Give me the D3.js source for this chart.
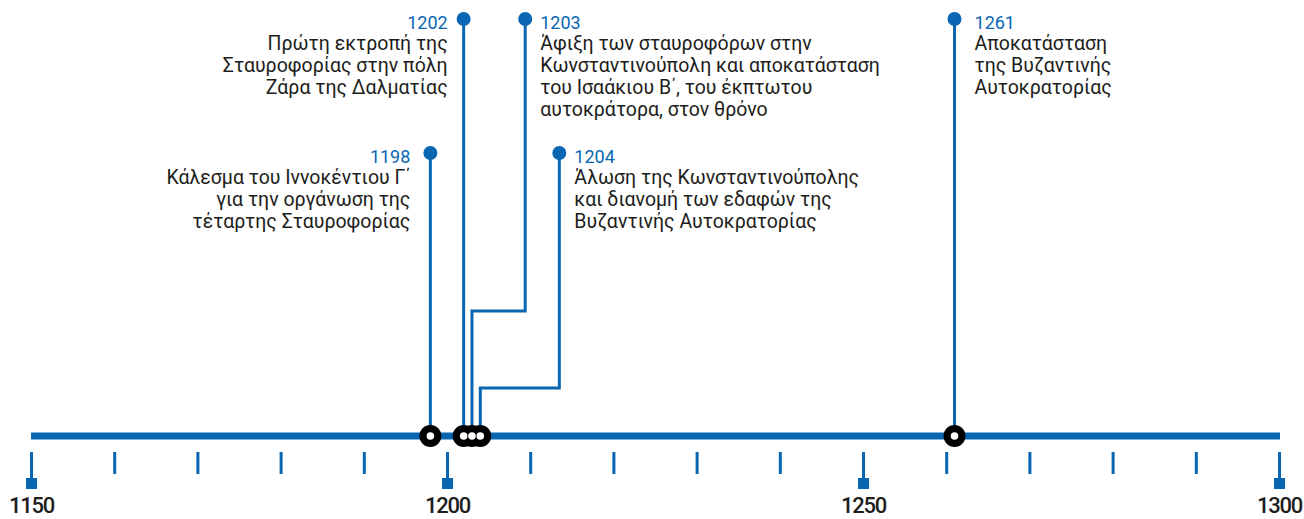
<!DOCTYPE html>
<html>
<head>
<meta charset="utf-8">
<script src="https://cdn.jsdelivr.net/npm/d3@7"></script>
<style>
  body { margin: 0; background: #fff; }
  svg text { font-family: Roboto, "Noto Sans", sans-serif; }
</style>
</head>
<body>
<div id="timeline"></div>
<script>
// data
var eventYears = [1198, 1202, 1203, 1204, 1261];
var eventLabels = ["1198", "1202", "1203", "1204", "1261"];
var eventTexts = [
  ["Κάλεσμα του Ιννοκέντιου Γ΄", "για την οργάνωση της", "τέταρτης Σταυροφορίας"],
  ["Πρώτη εκτροπή της", "Σταυροφορίας στην πόλη", "Ζάρα της Δαλματίας"],
  ["Άφιξη των σταυροφόρων στην", "Κωνσταντινούπολη και αποκατάσταση", "του Ισαάκιου Β΄, του έκπτωτου", "αυτοκράτορα, στον θρόνο"],
  ["Άλωση της Κωνσταντινούπολης", "και διανομή των εδαφών της", "Βυζαντινής Αυτοκρατορίας"],
  ["Αποκατάσταση", "της Βυζαντινής", "Αυτοκρατορίας"]
];
var majorTicks = [1150, 1200, 1250, 1300];
var minorTicks = [1160, 1170, 1180, 1190, 1210, 1220, 1230, 1240, 1260, 1270, 1280, 1290];

// layout of the callouts (which row, which side, where the stem bends)
var labelRow = [1, 0, 0, 1, 0];
var labelSide = ["left", "left", "right", "right", "right"];
var bendYear = [null, null, 1209.4, 1213.5, null];
var bendY = [null, null, 311, 388, null];
var labelGap = [20, 16, 15, 15, 20];

var width = 1304, height = 519;
var blue = "#0866b2", ink = "#1d1d1b";
var lineY = 436;
var rowY = [19, 153];

var svg = d3.select("#timeline")
  .append("svg")
  .attr("width", width)
  .attr("height", height);

var x = d3.scaleLinear()
  .domain([1150, 1300])
  .range([31, 1279]);

// main bar
svg.append("line")
  .attr("x1", x(1150))
  .attr("x2", x(1300) + 1)
  .attr("y1", lineY)
  .attr("y2", lineY)
  .attr("stroke", blue)
  .attr("stroke-width", 7);

// minor ticks
var minorAxis = d3.axisBottom(x)
  .tickValues(minorTicks)
  .tickSize(22)
  .tickSizeOuter(0)
  .tickFormat("");

var gMinor = svg.append("g")
  .attr("transform", `translate(0, 452)`)
  .call(minorAxis);
gMinor.select(".domain").remove();
gMinor.selectAll("line").attr("stroke", blue).attr("stroke-width", 3);

// major ticks with squares and labels
var majorAxis = d3.axisBottom(x)
  .tickValues(majorTicks)
  .tickSize(28)
  .tickSizeOuter(0)
  .tickFormat(d3.format("d"));

var gMajor = svg.append("g")
  .attr("transform", `translate(0, 452)`)
  .call(majorAxis);
gMajor.select(".domain").remove();
gMajor.selectAll("line").attr("stroke", blue).attr("stroke-width", 3);
gMajor.selectAll(".tick").append("rect")
  .attr("x", -5.5)
  .attr("y", 26)
  .attr("width", 11)
  .attr("height", 11)
  .attr("fill", blue);
gMajor.selectAll("text")
  .attr("fill", ink)
  .attr("font-family", "Roboto, sans-serif")
  .attr("font-size", "22px")
  .attr("font-weight", 500)
  .attr("letter-spacing", "-1.2px")
  .attr("dy", null)
  .attr("y", 61);

// stems
var events = eventYears.map(function(y, i) {
  var top = rowY[labelRow[i]];
  var dotX = bendYear[i] == null ? x(y) : x(bendYear[i]);
  var pts = [[x(y), lineY]];
  if (bendYear[i] != null) {
    pts.push([x(y), bendY[i]]);
    pts.push([dotX, bendY[i]]);
  }
  pts.push([dotX, top]);
  return { year: y, label: eventLabels[i], text: eventTexts[i], side: labelSide[i],
           gap: labelGap[i], dotX: dotX, dotY: top, pts: pts };
});

svg.selectAll("path.stem")
  .data(events)
  .enter()
  .append("path")
  .attr("class", "stem")
  .attr("d", d => d3.line()(d.pts))
  .attr("fill", "none")
  .attr("stroke", blue)
  .attr("stroke-width", 3);

svg.selectAll("circle.dot")
  .data(events)
  .enter()
  .append("circle")
  .attr("class", "dot")
  .attr("cx", d => d.dotX)
  .attr("cy", d => d.dotY)
  .attr("r", 7)
  .attr("fill", blue);

// markers on the bar: black first, then white centres so overlaps stay readable
svg.selectAll("circle.mark")
  .data(events)
  .enter()
  .append("circle")
  .attr("class", "mark")
  .attr("cx", d => x(d.year))
  .attr("cy", lineY)
  .attr("r", 11)
  .attr("fill", "#000");

svg.selectAll("circle.hole")
  .data(events)
  .enter()
  .append("circle")
  .attr("class", "hole")
  .attr("cx", d => x(d.year))
  .attr("cy", lineY)
  .attr("r", 3.8)
  .attr("fill", "#fff");

// labels
var labels = svg.selectAll("g.label")
  .data(events)
  .enter()
  .append("g")
  .attr("class", "label")
  .attr("transform", d => `translate(${d.side == "left" ? d.dotX - d.gap : d.dotX + d.gap}, ${d.dotY})`)
  .attr("text-anchor", d => d.side == "left" ? "end" : "start");

labels.append("text")
  .attr("y", 9.5)
  .attr("fill", blue)
  .attr("font-size", "18px")
  .text(d => d.label);

labels.each(function(d) {
  d3.select(this).selectAll("text.desc")
    .data(d.text)
    .enter()
    .append("text")
    .attr("class", "desc")
    .attr("y", (t, j) => 31 + j * 22)
    .attr("fill", ink)
    .attr("font-size", "19.5px")
    .text(t => t);
});
</script>
</body>
</html>
